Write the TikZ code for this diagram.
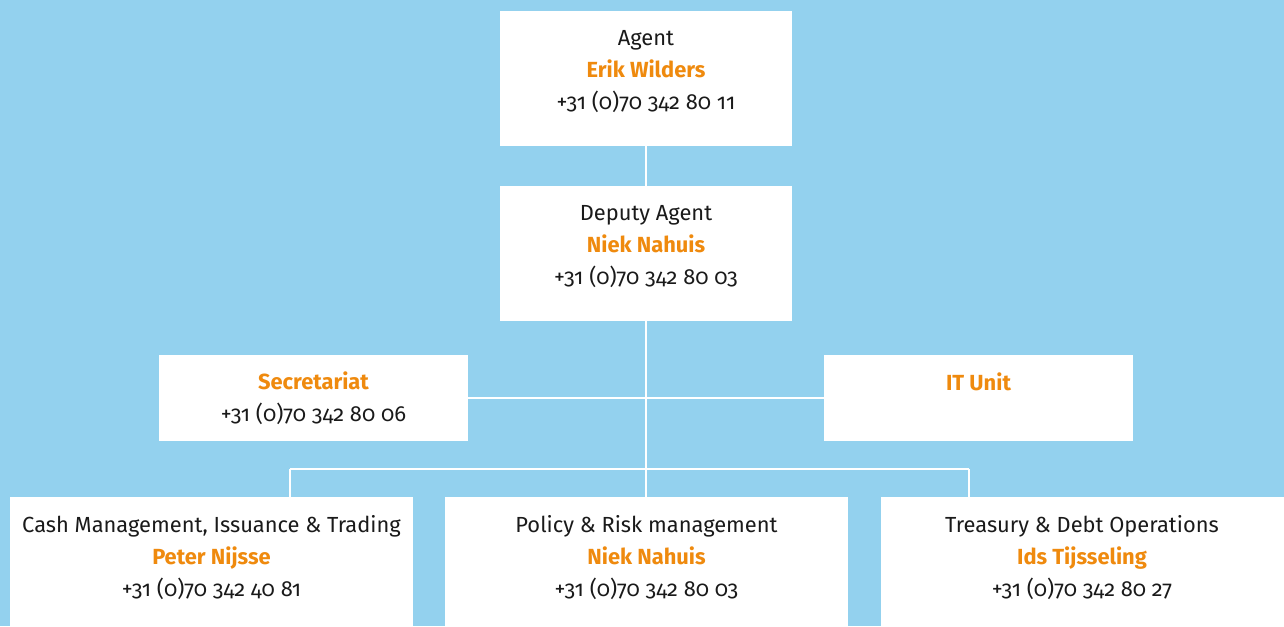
\documentclass[tikz,border=0pt]{standalone}
\usepackage{fontspec}
\setmainfont{Fira Sans}[Numbers=OldStyle]
\usepackage{xcolor}
\definecolor{skyblue}{HTML}{93D1EE}
\definecolor{nameorange}{HTML}{EF8A0E}
\definecolor{textblack}{HTML}{1A1A1A}
\usetikzlibrary{positioning}
\newcommand{\who}[1]{{\bfseries\color{nameorange}#1}}

\begin{document}
\begin{tikzpicture}[x=0.75pt, y=-0.75pt,
  unitbox/.style={fill=white, inner sep=0pt, minimum width=219pt, minimum height=101.25pt},
  staffbox/.style={fill=white, inner sep=0pt, minimum width=231.75pt, minimum height=64.5pt},
  deptbox/.style={fill=white, inner sep=0pt, minimum width=302.25pt, minimum height=101.25pt},
  info/.style={align=center, text=textblack, inner sep=0pt, font=\fontsize{16.4}{24}\selectfont},
  link/.style={draw=white, line width=1.2pt}]
  % background
  \useasboundingbox (0,0) rectangle (1284,626);
  \clip (0,0) rectangle (1284,626);
  \fill[skyblue] (0,0) rectangle (1284,626);

  % boxes
  \node[unitbox] (agent) at (646,78.5) {};
  \node[unitbox] (deputy) at (646,253.5) {};
  \node[staffbox] (secr) at (313.5,398) {};
  \node[staffbox] (itunit) at (978.5,398) {};
  \node[deptbox] (cash) at (211.5,564.5) {};
  \node[deptbox] (policy) at (646.5,564.5) {};
  \node[deptbox] (treasury) at (1082,564.5) {};

  % texts
  \node[info] (agenttxt) at (646,72) {Agent\\ \who{Erik Wilders}\\ +31 (0)70 342 80 11};
  \node[info] (deputytxt) at (646,247) {Deputy Agent\\ \who{Niek Nahuis}\\ +31 (0)70 342 80 03};
  \node[info] (secrtxt) at (313.5,398) {\who{Secretariat}\\ +31 (0)70 342 80 06};
  \node[info] (ittxt) at (978.5,382) {\who{IT Unit}};
  \node[info] (cashtxt) at (211.5,558) {Cash Management, Issuance \& Trading\\ \who{Peter Nijsse}\\ +31 (0)70 342 40 81};
  \node[info] (policytxt) at (646.5,558) {Policy \& Risk management\\ \who{Niek Nahuis}\\ +31 (0)70 342 80 03};
  \node[info] (treasurytxt) at (1082,558) {Treasury \& Debt Operations\\ \who{Ids Tijsseling}\\ +31 (0)70 342 80 27};

  % connectors
  \coordinate (busL) at (290,469);
  \coordinate (busR) at (969,469);
  \draw[link] (agent.south) -- (deputy.north);
  \draw[link] (deputy.south) -- (deputy.south |- policy.north);
  \draw[link] (secr.east) -- (itunit.west);
  \draw[link] (busL) -- (busR);
  \draw[link] (busL) -- (busL |- cash.north);
  \draw[link] (busR) -- (busR |- treasury.north);
\end{tikzpicture}
\end{document}
